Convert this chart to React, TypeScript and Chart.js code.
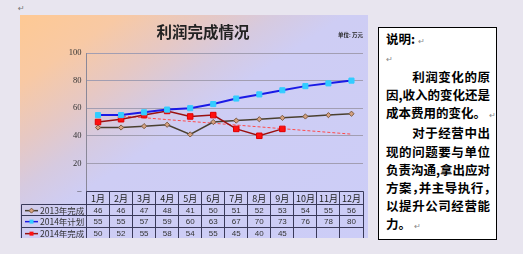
import React, { useEffect, useRef } from 'react';
import { Chart, registerables } from 'chart.js';

Chart.register(...registerables);

// ---- data ----
const months = ['1月', '2月', '3月', '4月', '5月', '6月', '7月', '8月', '9月', '10月', '11月', '12月'];
const actual2013 = [46, 46, 47, 48, 41, 50, 51, 52, 53, 54, 55, 56];
const plan2014 = [55, 55, 57, 59, 60, 63, 67, 70, 73, 76, 78, 80];
const actual2014: (number | null)[] = [50, 52, 55, 58, 54, 55, 45, 40, 45, null, null, null];
const trend2014: (number | null)[] = [55.7, null, null, null, null, null, null, null, null, null, null, 41.2];
const seriesNames = ['2013年完成', '2014年计划', '2014年完成'];
const yTicks = [0, 20, 40, 60, 80, 100];
const chartTitle = '利润完成情况';
const unitLabel = '单位: 万元';
const noteTitle = '说明:';
const noteLines: { text: string; justify: boolean; mark?: boolean }[] = [
  { text: '\u3000\u3000利润变化的原', justify: true },
  { text: '因,收入的变化还是', justify: true },
  { text: '成本费用的变化。', justify: false, mark: true },
  { text: '\u3000\u3000对于经营中出', justify: true },
  { text: '现的问题要与单位', justify: true },
  { text: '负责沟通,拿出应对', justify: true },
  { text: '方案，并主导执行，', justify: true },
  { text: '以提升公司经营能', justify: true },
  { text: '力。', justify: false, mark: true },
];

// ---- styles ----
const styles = [
  { line: '#4a4030', width: 1.5, point: 'rectRot', radius: 2.6, fill: '#d4a080', border: '#7a5a40' },
  { line: '#1a1ae6', width: 2, point: 'rect', radius: 3.6, fill: '#33ccff', border: '#33ccff' },
  { line: '#9a1010', width: 1.5, point: 'rect', radius: 3.9, fill: '#ff1010', border: '#e00000' },
];

const tablePlugin = {
  id: 'dataTable',
  afterDraw(chart: any) {
    const ctx: CanvasRenderingContext2D = chart.ctx;
    const area = chart.chartArea;
    const xs = chart.scales.x;
    const n = months.length;
    const colW = (area.right - area.left) / n;
    const px = (v: number) => Math.round(v - 0.5) + 0.5;
    const top = px(area.bottom);
    const headH = 12.5;
    const rowH = 11.3;
    const headBottom = px(top + headH);
    const rowsY = [0, 1, 2, 3].map((i) => px(headBottom + i * rowH));
    const bottom = rowsY[3];
    const left = 1.5;
    const right = px(area.right);
    const rows = [actual2013, plan2014, actual2014];

    ctx.save();
    // title
    ctx.fillStyle = '#222';
    ctx.font = '600 15.5px "Noto Sans CJK SC"';
    ctx.textAlign = 'center';
    ctx.textBaseline = 'middle';
    ctx.fillText(chartTitle, 183, 17);
    ctx.font = 'bold 5.5px "Noto Sans CJK SC"';
    ctx.textAlign = 'right';
    ctx.fillText(unitLabel, 343, 20);

    // grid of table
    ctx.strokeStyle = '#3a3a5a';
    ctx.lineWidth = 1;
    ctx.beginPath();
    ctx.moveTo(px(area.left), top);
    ctx.lineTo(right, top);
    ctx.moveTo(left, headBottom);
    ctx.lineTo(right, headBottom);
    for (let i = 1; i < 4; i++) {
      ctx.moveTo(left, rowsY[i]);
      ctx.lineTo(right, rowsY[i]);
    }
    ctx.moveTo(left, headBottom);
    ctx.lineTo(left, bottom);
    for (let i = 0; i <= n; i++) {
      const x = px(area.left + i * colW);
      ctx.moveTo(x, top);
      ctx.lineTo(x, bottom);
    }
    ctx.stroke();

    // header
    ctx.fillStyle = '#222';
    ctx.textAlign = 'center';
    ctx.textBaseline = 'middle';
    ctx.font = '9px "Noto Sans CJK SC"';
    months.forEach((m, i) => {
      ctx.fillText(m, xs.getPixelForValue(i), top + headH / 2 + 0.5);
    });

    // rows
    rows.forEach((vals, r) => {
      const cy = rowsY[r] + rowH / 2 + 0.5;
      ctx.font = '8px "Liberation Sans"';
      ctx.fillStyle = '#333';
      ctx.textAlign = 'center';
      vals.forEach((v, i) => {
        if (v === null) return;
        ctx.fillText(String(v), xs.getPixelForValue(i), cy);
      });
      // legend key
      const st = styles[r];
      ctx.strokeStyle = st.line;
      ctx.lineWidth = 1.5;
      ctx.beginPath();
      ctx.moveTo(5, cy);
      ctx.lineTo(18, cy);
      ctx.stroke();
      ctx.fillStyle = st.fill;
      ctx.strokeStyle = st.border;
      ctx.lineWidth = 1;
      if (st.point === 'rectRot') {
        ctx.beginPath();
        ctx.moveTo(11.5, cy - 2.5);
        ctx.lineTo(14, cy);
        ctx.lineTo(11.5, cy + 2.5);
        ctx.lineTo(9, cy);
        ctx.closePath();
        ctx.fill();
        ctx.stroke();
      } else {
        ctx.fillRect(9.5, cy - 2, 4, 4);
      }
      ctx.fillStyle = '#333';
      ctx.textAlign = 'left';
      ctx.font = '8.5px "Noto Sans CJK SC"';
      ctx.fillText(seriesNames[r], 20, cy);
    });
    ctx.restore();
  },
};

function ChartBox() {
  const ref = useRef<HTMLCanvasElement | null>(null);
  useEffect(() => {
    if (!ref.current) return;
    const mk = (data: (number | null)[], s: any, name: string) => ({
      label: name,
      data,
      borderColor: s.line,
      borderWidth: s.width,
      backgroundColor: s.fill,
      pointStyle: s.point,
      pointRadius: s.radius,
      pointBackgroundColor: s.fill,
      pointBorderColor: s.border,
      pointBorderWidth: 1,
      tension: 0,
      fill: false,
    });
    const chart = new Chart(ref.current, {
      type: 'line',
      data: {
        labels: months,
        datasets: [
          mk(plan2014, styles[1], seriesNames[1]),
          mk(actual2014, styles[2], seriesNames[2]),
          mk(actual2013, styles[0], seriesNames[0]),
          {
            label: '趋势',
            data: trend2014,
            borderColor: '#ff4a4a',
            borderWidth: 1,
            borderDash: [3, 2],
            pointRadius: 0,
            spanGaps: true,
            fill: false,
          } as any,
        ],
      },
      options: {
        animation: false,
        responsive: true,
        maintainAspectRatio: false,
        layout: { padding: { top: 38, bottom: 47, left: 0, right: 2.4 } },
        plugins: {
          legend: { display: false },
          title: { display: false },
          tooltip: { enabled: false },
        },
        scales: {
          x: {
            type: 'category',
            display: false,
            offset: true,
          },
          y: {
            min: 0,
            max: 100,
            afterBuildTicks: (scale: any) => {
              scale.ticks = yTicks.map((v) => ({ value: v }));
            },
            afterFit: (scale: any) => {
              scale.width = 66.5;
            },
            border: { display: true, color: '#8a8898', width: 1 },
            grid: { color: '#a29eb2', lineWidth: 1, drawTicks: false },
            ticks: {
              padding: 5,
              color: '#333',
              font: { family: '"Liberation Serif"', size: 8.5 },
              callback: (v: any) => (Number(v) === 0 ? '–' : String(v)),
            },
          },
        },
      },
      plugins: [tablePlugin],
    } as any);
    return () => chart.destroy();
  }, []);
  return <canvas ref={ref} />;
}

export default function App() {
  return (
    <div
      style={{
        position: 'fixed',
        left: 0,
        top: 0,
        width: 523,
        height: 254,
        background: '#e8e5ef',
        overflow: 'hidden',
      }}
    >
      <div style={{ position: 'absolute', left: 18, top: 4, fontSize: 8, color: '#777', fontFamily: '"DejaVu Sans"' }}>↵</div>
      <div
        style={{
          position: 'absolute',
          left: 20,
          top: 15,
          width: 348,
          height: 223,
          background:
            'linear-gradient(146deg, #fec994 0%, #f8c9a4 15%, #e6c8c4 28%, #d6cae0 38%, #cecdf4 48%, #cccdf7 100%)',
        }}
      >
        <ChartBox />
      </div>
      <div
        style={{
          position: 'absolute',
          left: 378,
          top: 27,
          width: 119,
          height: 213,
          boxSizing: 'border-box',
          border: '1px solid #000',
          background: '#fff',
          padding: '2px 6px 0 7px',
          fontFamily: '"Noto Sans CJK SC"',
          fontWeight: 700,
          fontSize: 12.5,
          lineHeight: '18.1px',
          color: '#000',
        }}
      >
        <div>
          {noteTitle}
          <span style={{ fontSize: 8, color: '#888', fontWeight: 400, marginLeft: 3 }}>↵</span>
        </div>
        <div style={{ fontSize: 8, color: '#888', fontWeight: 400 }}>↵</div>
        {noteLines.map((l, i) => (
          <div
            key={i}
            style={{
              whiteSpace: 'nowrap',
              textAlign: l.justify ? 'justify' : 'left',
              textAlignLast: l.justify ? 'justify' : 'left',
              fontFeatureSettings: l.text.includes('，') ? '"halt"' : undefined,
            } as any}
          >
            {l.text}
            {l.mark ? <span style={{ fontSize: 8, color: '#888', fontWeight: 400, marginLeft: 3 }}>↵</span> : null}
          </div>
        ))}
      </div>
    </div>
  );
}
